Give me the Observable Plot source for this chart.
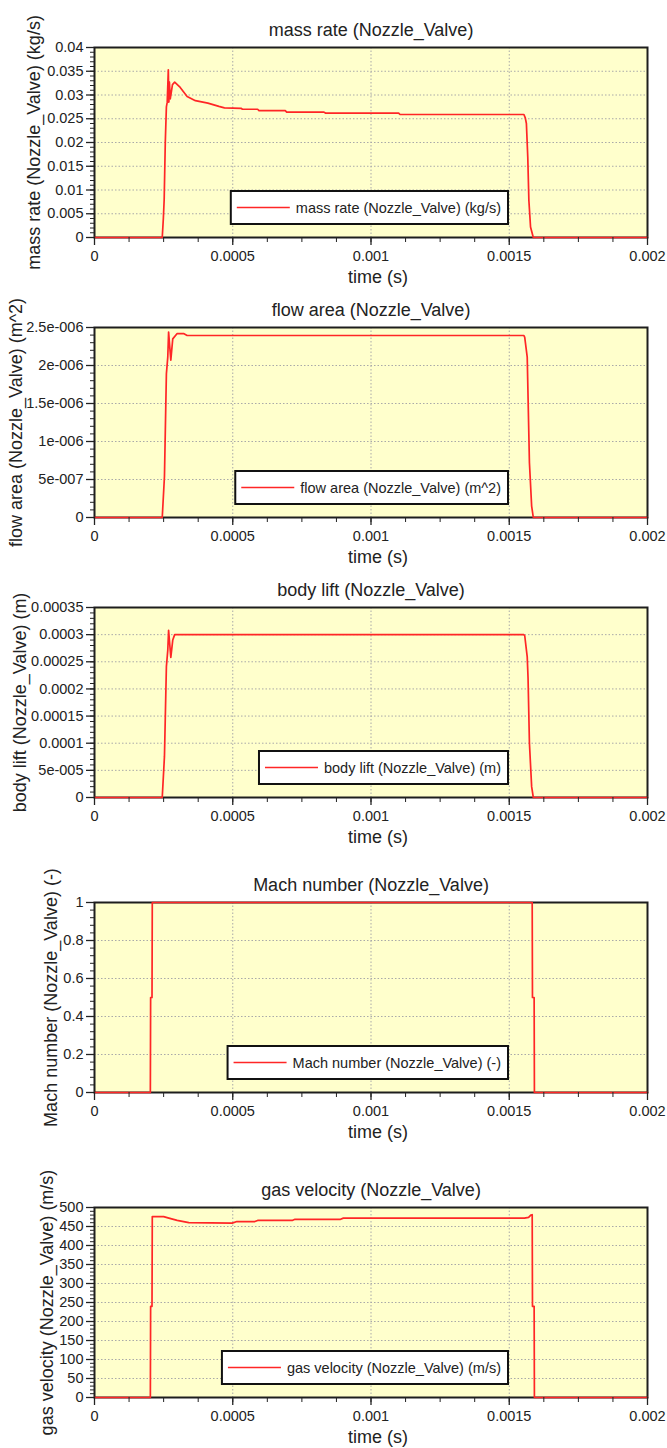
<!DOCTYPE html>
<html><head><meta charset="utf-8">
<script src="https://cdn.jsdelivr.net/npm/d3@7"></script>
<script src="https://cdn.jsdelivr.net/npm/@observablehq/plot@0.6"></script>
<style>
body{margin:0;background:#fff;}
#wrap{position:relative;width:667px;height:1448px;font-family:"Liberation Sans",Arial,sans-serif;}
#wrap svg{position:absolute;left:0;overflow:visible;}
</style></head><body><div id="wrap"></div>
<script>
// ---- shared x axis ----
const timeTicks = [0, 0.0005, 0.001, 0.0015, 0.002];
const timeTickLabels = ["0", "0.0005", "0.001", "0.0015", "0.002"];

// ---- panel 1: mass rate ----
const massRateT = [0, 0.000245, 0.000249, 0.000252, 0.000256, 0.000260, 0.000263, 0.000267, 0.000269, 0.000271, 0.000274, 0.000282, 0.000290, 0.000310, 0.000335, 0.000365, 0.000410, 0.000450, 0.000470, 0.000530, 0.000535, 0.000590, 0.000595, 0.000690, 0.000695, 0.000830, 0.000835, 0.001100, 0.001105, 0.001553, 0.001558, 0.001562, 0.001567, 0.001571, 0.001577, 0.001587, 0.002];
const massRateV = [0, 0, 0.004, 0.008, 0.020, 0.0275, 0.0285, 0.0353, 0.0285, 0.0327, 0.0292, 0.0322, 0.0327, 0.0316, 0.0297, 0.0288, 0.0283, 0.0276, 0.0273, 0.0272, 0.0270, 0.0270, 0.0267, 0.0267, 0.0264, 0.0264, 0.0262, 0.0262, 0.0259, 0.0259, 0.0252, 0.0240, 0.0169, 0.0078, 0.0022, 0, 0];
const massRateTicks = [0, 0.005, 0.01, 0.015, 0.02, 0.025, 0.03, 0.035, 0.04];
const massRateTickLabels = ["0", "0.005", "0.01", "0.015", "0.02", "0.025", "0.03", "0.035", "0.04"];

// ---- panel 2: flow area ----
const flowAreaT = [0, 0.000245, 0.000253, 0.000260, 0.000265, 0.000268, 0.000276, 0.000283, 0.000299, 0.000322, 0.000335, 0.001553, 0.001556, 0.001565, 0.001568, 0.001573, 0.001581, 0.001587, 0.002];
const flowAreaV = [0, 0, 0.54e-6, 1.89e-6, 2.11e-6, 2.44e-6, 2.07e-6, 2.35e-6, 2.42e-6, 2.42e-6, 2.395e-6, 2.395e-6, 2.37e-6, 2.11e-6, 1.59e-6, 0.72e-6, 0.15e-6, 0, 0];
const flowAreaTicks = [0, 5e-7, 1e-6, 1.5e-6, 2e-6, 2.5e-6];
const flowAreaTickLabels = ["0", "5e-007", "1e-006", "1.5e-006", "2e-006", "2.5e-006"];

// ---- panel 3: body lift ----
const bodyLiftT = [0, 0.000245, 0.000253, 0.000260, 0.000265, 0.000268, 0.000276, 0.000283, 0.000290, 0.001553, 0.001556, 0.001565, 0.001568, 0.001573, 0.001581, 0.001587, 0.002];
const bodyLiftV = [0, 0, 0.0000757, 0.000241, 0.000271, 0.000308, 0.000258, 0.000290, 0.000300, 0.000300, 0.000298, 0.000259, 0.000220, 0.000100, 0.000020, 0, 0];
const bodyLiftTicks = [0, 5e-5, 0.0001, 0.00015, 0.0002, 0.00025, 0.0003, 0.00035];
const bodyLiftTickLabels = ["0", "5e-005", "0.0001", "0.00015", "0.0002", "0.00025", "0.0003", "0.00035"];

// ---- panel 4: Mach number ----
const machT = [0, 0.000202, 0.000203, 0.000208, 0.000209, 0.001583, 0.001584, 0.001590, 0.001591, 0.002];
const machV = [0, 0, 0.5, 0.5, 1, 1, 0.5, 0.5, 0, 0];
const machTicks = [0, 0.2, 0.4, 0.6, 0.8, 1];
const machTickLabels = ["0", "0.2", "0.4", "0.6", "0.8", "1"];

// ---- panel 5: gas velocity ----
const gasVelT = [0, 0.000202, 0.000203, 0.000208, 0.000209, 0.000250, 0.000269, 0.000299, 0.000341, 0.000498, 0.000515, 0.000580, 0.000590, 0.000715, 0.000725, 0.000890, 0.000900, 0.001555, 0.001570, 0.001578, 0.001583, 0.001584, 0.001590, 0.001591, 0.002];
const gasVelV = [0, 0, 240, 240, 476, 476, 472, 466, 460, 459, 463, 463, 466, 466, 469, 469, 472, 472, 474, 480, 481, 240, 240, 0, 0];
const gasVelTicks = [0, 50, 100, 150, 200, 250, 300, 350, 400, 450, 500];
const gasVelTickLabels = ["0", "50", "100", "150", "200", "250", "300", "350", "400", "450", "500"];

const FONT = '"Liberation Sans", Arial, sans-serif';
const RED = "#ff2626";
const INK = "#222";

const panels = [
  {title: "mass rate (Nozzle_Valve)", yLabel: "mass rate (Nozzle_Valve) (kg/s)", legend: "mass rate (Nozzle_Valve) (kg/s)",
   t: massRateT, v: massRateV, ticks: massRateTicks, labels: massRateTickLabels, minor: 40, top: 0, yLabelX: 34},
  {title: "flow area (Nozzle_Valve)", yLabel: "flow area (Nozzle_Valve) (m^2)", legend: "flow area (Nozzle_Valve) (m^2)",
   t: flowAreaT, v: flowAreaV, ticks: flowAreaTicks, labels: flowAreaTickLabels, minor: 25, top: 280, yLabelX: 16},
  {title: "body lift (Nozzle_Valve)", yLabel: "body lift (Nozzle_Valve) (m)", legend: "body lift (Nozzle_Valve) (m)",
   t: bodyLiftT, v: bodyLiftV, ticks: bodyLiftTicks, labels: bodyLiftTickLabels, minor: 35, top: 560, yLabelX: 20},
  {title: "Mach number (Nozzle_Valve)", yLabel: "Mach number (Nozzle_Valve) (-)", legend: "Mach number (Nozzle_Valve) (-)",
   t: machT, v: machV, ticks: machTicks, labels: machTickLabels, minor: 25, top: 855, yLabelX: 51},
  {title: "gas velocity (Nozzle_Valve)", yLabel: "gas velocity (Nozzle_Valve) (m/s)", legend: "gas velocity (Nozzle_Valve) (m/s)",
   t: gasVelT, v: gasVelV, ticks: gasVelTicks, labels: gasVelTickLabels, minor: 50, top: 1160, yLabelX: 47}
];

const wrap = document.getElementById("wrap");
const W = 667, mL = 94, mR = 20, mT = 47, PH = 190, mB = 50, H = mT + PH + mB;
const xMinor = d3.range(0, 17).map(i => i * 0.000125);

function lookup(ticks, labels) {
  const span = ticks[ticks.length - 1];
  return d => {
    const i = ticks.findIndex(x => Math.abs(x - d) < span * 1e-9);
    return i >= 0 ? labels[i] : "";
  };
}

for (const p of panels) {
  const rows = p.t.map((t, i) => ({t, v: p.v[i]}));
  const ymax = p.ticks[p.ticks.length - 1];
  const yMinor = d3.range(0, p.minor + 1).map(i => i * ymax / p.minor);
  const svg = Plot.plot({
    width: W, height: H,
    marginLeft: mL, marginRight: mR, marginTop: mT, marginBottom: mB,
    style: {fontFamily: FONT, fontSize: "14.5px", color: INK, background: "transparent", overflow: "visible"},
    x: {domain: [0, 0.002], label: null},
    y: {domain: [0, ymax], label: null},
    marks: [
      Plot.frame({fill: "#ffffcc", stroke: null}),
      Plot.gridX(timeTicks.slice(1, -1), {stroke: "#a9a9a9", strokeOpacity: 1, strokeDasharray: "1.5,2"}),
      Plot.gridY(p.ticks.slice(1, -1), {stroke: "#a9a9a9", strokeOpacity: 1, strokeDasharray: "1.5,2"}),
      Plot.frame({stroke: "#1e1e1e", strokeWidth: 2}),
      Plot.line(rows, {x: "t", y: "v", stroke: RED, strokeWidth: 1.7}),
      Plot.axisY(yMinor, {tickSize: 4, tickFormat: () => "", stroke: INK, label: null}),
      Plot.axisY(p.ticks, {tickSize: 8, tickPadding: 3, tickFormat: lookup(p.ticks, p.labels), stroke: INK, strokeWidth: 1.3, label: null}),
      Plot.axisX(xMinor, {tickSize: 5, tickFormat: () => "", stroke: INK, label: null}),
      Plot.axisX(timeTicks, {tickSize: 8, tickPadding: 5, tickFormat: lookup(timeTicks, timeTickLabels), stroke: INK, strokeWidth: 1.3, label: null}),
      Plot.text([p.title], {text: d => d, frameAnchor: "top", dy: -17.5, fontSize: 18, lineAnchor: "middle", fill: INK}),
      Plot.text([p.yLabel], {text: d => d, frameAnchor: "left", dx: p.yLabelX - mL, rotate: -90, fontSize: 18, lineAnchor: "middle", textAnchor: "middle", fill: INK}),
      Plot.text(["time (s)"], {text: d => d, frameAnchor: "bottom", dy: 40, dx: 7, fontSize: 18, lineAnchor: "middle", fill: INK})
    ]
  });
  svg.style.top = p.top + "px";
  wrap.appendChild(svg);

  // legend box
  const g = d3.select(svg).append("g").attr("text-anchor", "start");
  const boxH = 33, right = 508, bottom = mT + PH - 13, cy = bottom - boxH / 2;
  const rect = g.append("rect");
  const line = g.append("line");
  const txt = g.append("text").text(p.legend)
    .attr("font-family", FONT).attr("font-size", 14.5).attr("fill", INK)
    .attr("text-anchor", "start").attr("dy", "0.35em");
  const w = txt.node().getComputedTextLength();
  const x0 = right - w - 72;
  rect.attr("x", x0).attr("y", bottom - boxH).attr("width", w + 72).attr("height", boxH)
    .attr("fill", "#fff").attr("stroke", "#111").attr("stroke-width", 2);
  line.attr("x1", x0 + 6).attr("x2", x0 + 59).attr("y1", cy).attr("y2", cy)
    .attr("stroke", RED).attr("stroke-width", 1.7);
  txt.attr("x", x0 + 65).attr("y", cy);
}
</script></body></html>
